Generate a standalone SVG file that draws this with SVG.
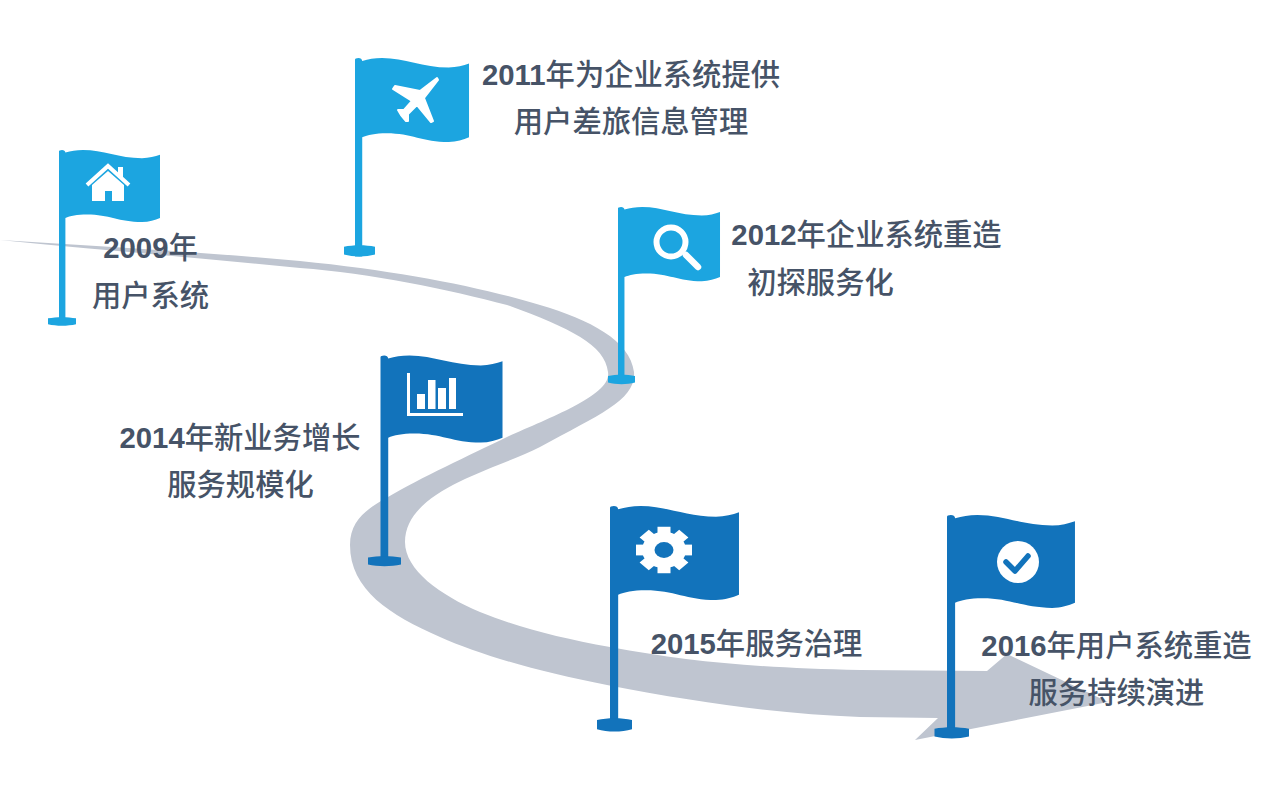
<svg xmlns="http://www.w3.org/2000/svg" xmlns:xlink="http://www.w3.org/1999/xlink" width="1286" height="795" viewBox="0 0 1286 795">
<style>
.lt{fill:#1ca5e0}.dk{fill:#1273bb}
.t{font-family:"Liberation Sans","Noto Sans CJK SC",sans-serif;font-size:29.300px;font-weight:500;fill:#465367;text-anchor:middle}
.t tspan.d{font-weight:700}
.w{fill:#fff}
</style>
<defs>
<path id="cloth" d="M0 1.500Q0 0 3 0Q6 0 6.400 2.500C12 1 17 0 24 0C44 0 60 8.200 83 8.200C90 8.200 96 6.500 101 4.800V68C96 70 90 72 83 72C60 72 50 64.500 28 64.500C18 64.500 11 66 6.400 68V170H0Z"/>
<path id="base" d="M0 .15C.3 -.02 .7 -.02 1 .15V.8C.7 1.020 .3 1.020 0 .8Z"/>
</defs>
<rect width="1286" height="795" fill="#fff"/>
<g id="connectors">
<path id="road" fill="#bfc5d0" d="M0 240C100 246 200 252 300 261C400 271 480 287 540 305C590 320 630 340 634 372C636 400 600 414 540 447C495 470 405 490 405 542C405 570 440 595 480 612C520 628 560 638 610 647C690 662 760 668 860 670L987 671L1007 654L1108 702L915 740L938 718L860 717C780 714 700 703 607 685C540 672 480 655 440 637C390 615 350 590 350 545C350 520 368 508 388 497C420 478 470 455 507 437C550 417 612 395 608 372C605 345 570 328 507 305C450 290 370 273 300 268C200 258 100 250 0 240Z"/>
</g>
<g id="flag-2009">
<use xlink:href="#cloth" class="lt" transform="translate(59 150)"/>
<use xlink:href="#base" class="lt" transform="translate(48 317) scale(28 9)"/>
<g class="w"><path d="M87 185L108 166L129 185" fill="none" stroke="#fff" stroke-width="4"/><rect x="118" y="167" width="5" height="11"/><path d="M92 201V185L108 171L124 185V201H112V191H105V201Z"/></g>
</g>
<g id="flag-2011">
<use xlink:href="#cloth" class="lt" transform="translate(355 58) scale(1.129 1.167)"/>
<use xlink:href="#base" class="lt" transform="translate(344 245) scale(31 12)"/>
<path class="w" stroke="#fff" stroke-width="2" stroke-linejoin="round" d="M437 78L438 80L424 98L433 121L431 122L417 105L408 114L408 121L406 121L401 115L398 110L404 110L412 101L393 89L395 86L420 91Z"/>
</g>
<g id="flag-2012">
<use xlink:href="#cloth" class="lt" transform="translate(618 207) scale(1.01 1.03)"/>
<use xlink:href="#base" class="lt" transform="translate(608 374.500) scale(27 10)"/>
<circle cx="671" cy="242" r="14.500" fill="none" stroke="#fff" stroke-width="6"/>
<path d="M686 255L698 267" stroke="#fff" stroke-width="6.500" stroke-linecap="round"/>
</g>
<g id="flag-2014">
<use xlink:href="#cloth" class="dk" transform="translate(380.500 355.500) scale(1.208 1.208)"/>
<use xlink:href="#base" class="dk" transform="translate(368 556) scale(33 10.500)"/>
<g class="w"><path d="M407 373H410V413H463V416H407Z"/><rect x="417" y="394" width="8" height="15"/><rect x="428" y="380" width="7.500" height="29"/><rect x="438" y="388" width="8" height="21"/><rect x="449" y="378" width="7" height="31"/></g>
</g>
<g id="flag-2015">
<use xlink:href="#cloth" class="dk" transform="translate(610 506) scale(1.277 1.306)"/>
<use xlink:href="#base" class="dk" transform="translate(597 718) scale(35 14)"/>
<g transform="translate(664 550) scale(1 .83)" class="w">
<circle r="22"/>
<rect x="-6.500" y="-28" width="13" height="56"/>
<rect x="-6.500" y="-28" width="13" height="56" transform="rotate(45)"/>
<rect x="-6.500" y="-28" width="13" height="56" transform="rotate(90)"/>
<rect x="-6.500" y="-28" width="13" height="56" transform="rotate(135)"/>
<circle r="9.500" class="dk"/>
</g>
</g>
<g id="flag-2016">
<use xlink:href="#cloth" class="dk" transform="translate(947 515) scale(1.267 1.29)"/>
<use xlink:href="#base" class="dk" transform="translate(934.500 727) scale(34.500 12)"/>
<circle class="w" cx="1018" cy="562" r="21"/>
<path d="M1006 562L1015 571L1028 556" fill="none" stroke="#1273bb" stroke-width="5.500" stroke-linecap="round" stroke-linejoin="round"/>
</g>
<g id="labels">
<text class="t" x="150.500" y="258"><tspan class="d">2009</tspan>年</text>
<text class="t" x="150.500" y="306">用户系统</text>
<text class="t" x="631" y="85"><tspan class="d">2011</tspan>年为企业系统提供</text>
<text class="t" x="631" y="132">用户差旅信息管理</text>
<text class="t" x="866.500" y="245"><tspan class="d">2012</tspan>年企业系统重造</text>
<text class="t" x="820.500" y="293">初探服务化</text>
<text class="t" x="240" y="448"><tspan class="d">2014</tspan>年新业务增长</text>
<text class="t" x="240.500" y="495">服务规模化</text>
<text class="t" x="756.500" y="654"><tspan class="d">2015</tspan>年服务治理</text>
<text class="t" x="1116.500" y="656"><tspan class="d">2016</tspan>年用户系统重造</text>
<text class="t" x="1116.500" y="703">服务持续演进</text>
</g>
</svg>
